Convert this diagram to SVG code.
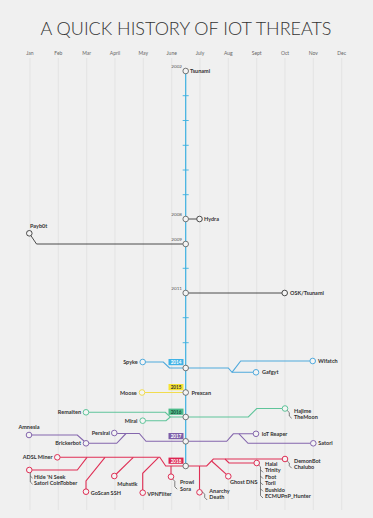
<svg xmlns="http://www.w3.org/2000/svg" width="373" height="518" viewBox="0 0 373 518">
<style>
text{font-family:Lato,"Open Sans","Liberation Sans",sans-serif}
.title{font-size:18.5px;font-weight:300;fill:#333}
.mon{font-size:5px;fill:#666;text-anchor:middle}
.yr{font-size:4.6px;fill:#555;text-anchor:end}
.lb{font-size:5.5px;font-weight:700;fill:#333}
.lr{font-size:5.5px;font-weight:700;fill:#333;text-anchor:end}
.bx{font-size:4.6px;font-weight:700;fill:#fff;text-anchor:middle}
.grid line{stroke:#dedede;stroke-width:0.7}
.t{fill:#f4f4f4;stroke:#555;stroke-width:0.8}
.k{fill:#f4f4f4;stroke:#222;stroke-width:0.8}
.cb{fill:#f4f4f4;stroke:#4fa9dc;stroke-width:1}
.cy{fill:#f4f4f4;stroke:#f1dc4e;stroke-width:1}
.cg{fill:#f4f4f4;stroke:#5fc49a;stroke-width:1}
.cp{fill:#f4f4f4;stroke:#8466ad;stroke-width:1}
.cr{fill:#f4f4f4;stroke:#df2f55;stroke-width:1}
.ck{fill:none;stroke:#222;stroke-width:0.8}
.lk{fill:none;stroke:#222;stroke-width:0.8}
.lbl{fill:none;stroke:#4fa9dc;stroke-width:1.1}
.ly{fill:none;stroke:#f1dc4e;stroke-width:1.1}
.lg{fill:none;stroke:#5fc49a;stroke-width:1.1}
.lp{fill:none;stroke:#8466ad;stroke-width:1.1}
.lr2{fill:none;stroke:#df2f55;stroke-width:1.1}
.tick{stroke:#3bb0e0;stroke-width:0.9}
.br{fill:none;stroke:#333;stroke-width:0.6}
</style>
<rect width="373" height="518" fill="#f0f0f0"/>
<text class="title" x="40.5" y="35" textLength="291" lengthAdjust="spacingAndGlyphs">A QUICK HISTORY OF IOT THREATS</text>
<g class="grid">
<line x1="30" y1="58" x2="30" y2="510"/>
<line x1="58.3" y1="58" x2="58.3" y2="510"/>
<line x1="86.7" y1="58" x2="86.7" y2="510"/>
<line x1="115" y1="58" x2="115" y2="510"/>
<line x1="143.3" y1="58" x2="143.3" y2="510"/>
<line x1="171.7" y1="58" x2="171.7" y2="510"/>
<line x1="200" y1="58" x2="200" y2="510"/>
<line x1="228.3" y1="58" x2="228.3" y2="510"/>
<line x1="256.7" y1="58" x2="256.7" y2="510"/>
<line x1="285" y1="58" x2="285" y2="510"/>
<line x1="313.3" y1="58" x2="313.3" y2="510"/>
<line x1="341.7" y1="58" x2="341.7" y2="510"/>
</g>
<g id="months">
<text class="mon" x="30" y="54.7">Jan</text>
<text class="mon" x="58.3" y="54.7">Feb</text>
<text class="mon" x="86.7" y="54.7">Mar</text>
<text class="mon" x="115" y="54.7">April</text>
<text class="mon" x="143.3" y="54.7">May</text>
<text class="mon" x="171.7" y="54.7">June</text>
<text class="mon" x="200" y="54.7">July</text>
<text class="mon" x="228.3" y="54.7">Aug</text>
<text class="mon" x="256.7" y="54.7">Sept</text>
<text class="mon" x="285" y="54.7">Oct</text>
<text class="mon" x="313.3" y="54.7">Nov</text>
<text class="mon" x="341.7" y="54.7">Dec</text>
</g>
<g id="connectors">
<line x1="185.7" y1="71" x2="185.7" y2="466" stroke="#3bb0e0" stroke-width="1.2"/>
<line class="tick" x1="182.7" y1="95.7" x2="188.7" y2="95.7"/>
<line class="tick" x1="182.7" y1="120.5" x2="188.7" y2="120.5"/>
<line class="tick" x1="182.7" y1="145.3" x2="188.7" y2="145.3"/>
<line class="tick" x1="182.7" y1="170" x2="188.7" y2="170"/>
<line class="tick" x1="182.7" y1="194.7" x2="188.7" y2="194.7"/>
<line class="tick" x1="182.7" y1="268.3" x2="188.7" y2="268.3"/>
<line class="tick" x1="182.7" y1="317.7" x2="188.7" y2="317.7"/>
<line class="tick" x1="182.7" y1="342.7" x2="188.7" y2="342.7"/>
<path class="lk" d="M188.5,219 H196.7"/>
<path class="lk" d="M31,235.8 L36.5,244 H182.9"/>
<path class="lk" d="M188.5,293 H281.9"/>
<path class="lbl" d="M145.5,362 H163.3 L169.5,368 H182.9"/>
<path class="lbl" d="M188.5,368 H228.3 L232,372.3 H253.2"/>
<path class="lbl" d="M232,372.3 L240.7,361 H309.9"/>
<path class="ly" d="M144.8,392.5 H182.9"/>
<path class="lg" d="M88.8,412.3 H165.3 L170.3,417 H182.9"/>
<path class="lg" d="M145.5,420.7 H166 L170.3,417"/>
<path class="lg" d="M188.5,417 H248.3 L256.7,408.5 H282.2"/>
<path class="lp" d="M31.8,435 H77.3 L84,441"/>
<path class="lp" d="M88.8,443.3 H116.7 L126,433.5"/>
<path class="lp" d="M117.1,433.5 H139.3 L146,441.3 H182.9"/>
<path class="lp" d="M188.5,441.3 H226.7 L233.3,433.8 H253.2"/>
<path class="lp" d="M239,433.8 L248,443.3 H310.5"/>
<path class="lr2" d="M60.1,457.3 H159.8 L165.7,466 H182.9"/>
<path class="lr2" d="M32.1,470 H77.3 L87,457.3"/>
<path class="lr2" d="M86,488.9 V481 L105,457.3"/>
<path class="lr2" d="M116.3,474 L133.3,457.3"/>
<path class="lr2" d="M142.7,489.9 V473.3 L158.6,457.3"/>
<path class="lr2" d="M171,473.9 V466"/>
<path class="lr2" d="M188.5,466 H206.7 L213.3,459 H282.2"/>
<path class="lr2" d="M199.5,466 V489.5"/>
<path class="lr2" d="M211.6,461 L226.4,474.3"/>
<path class="lr2" d="M225,459 L229,463 H253.9"/>
</g>
<g id="y2002"><circle class="t" cx="185.7" cy="71" r="2.8"/><text class="yr" x="182" y="67.5">2002</text><text class="lb" x="190" y="73">Tsunami</text></g>
<g id="y2008"><circle class="t" cx="185.7" cy="219" r="2.8"/><text class="yr" x="182" y="215.5">2008</text></g>
<g id="y2009"><circle class="t" cx="185.7" cy="244" r="2.8"/><text class="yr" x="182" y="240.5">2009</text></g>
<g id="y2011"><circle class="t" cx="185.7" cy="293" r="2.8"/><text class="yr" x="182" y="290">2011</text></g>
<g id="y2014"><circle class="t" cx="185.7" cy="368" r="2.8"/><rect x="168.5" y="359" width="15" height="6.2" fill="#3fb2e6"/><text class="bx" x="176" y="363.9">2014</text></g>
<g id="y2015"><circle class="t" cx="185.7" cy="392.5" r="2.8"/><rect x="168.5" y="384" width="15" height="6.2" fill="#f6e332"/><text class="bx" x="176" y="388.9" fill="#333" style="fill:#333">2015</text><text class="lb" x="191.5" y="394.7">Prexcan</text></g>
<g id="y2016"><circle class="t" cx="185.7" cy="417" r="2.8"/><rect x="168.5" y="408.6" width="15" height="6.2" fill="#4cbb8a"/><text class="bx" x="176" y="413.5" style="fill:#1d4d38">2016</text></g>
<g id="y2017"><circle class="t" cx="185.7" cy="441.3" r="2.8"/><rect x="168.5" y="433" width="15" height="6.2" fill="#7d5ea8"/><text class="bx" x="176" y="437.9">2017</text></g>
<g id="y2018"><circle class="t" cx="185.7" cy="466" r="2.8"/><rect x="168.5" y="457.6" width="15" height="6.2" fill="#dc2450"/><text class="bx" x="176" y="462.5">2018</text></g>
<g id="n-hydra"><circle class="k" cx="199.5" cy="219" r="2.8"/><text class="lb" x="204" y="221">Hydra</text></g>
<g id="n-payb0t"><circle class="k" cx="29.3" cy="233.3" r="2.8"/><text class="lb" x="30" y="227.7">Payb0t</text></g>
<g id="n-osk"><circle class="k" cx="284.7" cy="293" r="2.8"/><text class="lb" x="290" y="295">OSK/Tsunami</text></g>
<g id="n-spyke"><circle class="cb" cx="142.7" cy="362" r="2.8"/><text class="lr" x="137.8" y="364">Spyke</text></g>
<g id="n-wifatch"><circle class="cb" cx="312.7" cy="361" r="2.8"/><text class="lb" x="318" y="363">Wifatch</text></g>
<g id="n-gafgyt"><circle class="cb" cx="256" cy="372.3" r="2.8"/><text class="lb" x="262" y="374.3">Gafgyt</text></g>
<g id="n-moose"><circle class="cy" cx="142" cy="392.5" r="2.8"/><text class="lr" x="136.8" y="394.5">Moose</text></g>
<g id="n-remaiten"><circle class="cg" cx="86" cy="412.3" r="2.8"/><text class="lr" x="81" y="414.3">Remaiten</text></g>
<g id="n-mirai"><circle class="cg" cx="142.7" cy="420.7" r="2.8"/><text class="lr" x="137.5" y="422.7">Mirai</text></g>
<g id="n-hajime"><circle class="cg" cx="285" cy="408.5" r="2.8"/><path class="br" d="M287.2,410.5 L289.3,412.6 V416 L291.7,418.3"/><text class="lb" x="294" y="412.6">Hajime</text><text class="lb" x="294" y="419">TheMoon</text></g>
<g id="n-amnesia"><circle class="cp" cx="29" cy="435" r="2.8"/><text class="lb" x="29" y="429.3" text-anchor="middle">Amnesia</text></g>
<g id="n-brickerbot"><circle class="cp" cx="86" cy="443.3" r="2.8"/><text class="lr" x="81" y="445.3">Brickerbot</text></g>
<g id="n-persirai"><circle class="cp" cx="114.3" cy="433" r="2.8"/><text class="lr" x="110" y="434.5">Persirai</text></g>
<g id="n-iotreaper"><circle class="cp" cx="256" cy="433.8" r="2.8"/><text class="lb" x="261.7" y="435.5">IoT Reaper</text></g>
<g id="n-satori"><circle class="cp" cx="313.3" cy="443.3" r="2.8"/><text class="lb" x="318.3" y="445.3">Satori</text></g>
<g id="n-adsl"><circle class="cr" cx="57.3" cy="457.3" r="2.8"/><text class="lr" x="52.5" y="458.8">ADSL Miner</text></g>
<g id="n-hide"><circle class="cr" cx="29.3" cy="470" r="2.8"/><path class="br" d="M30.3,472.6 V476 L32.6,478.2 M30.3,476 V482 L32.6,484.2"/><text class="lb" x="34" y="478.7">Hide 'N Seek</text><text class="lb" x="34" y="484.7">Satori CoinTobber</text></g>
<g id="n-goscan"><circle class="cr" cx="86" cy="491.7" r="2.8"/><text class="lb" x="90.7" y="495.3">GoScan SSH</text></g>
<g id="n-muhstik"><circle class="cr" cx="114.3" cy="476" r="2.8"/><text class="lb" x="117.3" y="486">Muhstik</text></g>
<g id="n-vpnfilter"><circle class="cr" cx="142.7" cy="492.7" r="2.8"/><text class="lb" x="147.3" y="496.3">VPNFilter</text></g>
<g id="n-prowl"><circle class="cr" cx="171" cy="476.7" r="2.8"/><path class="br" d="M172.6,479 L174.8,481.3 V486.8 L177.2,489.2"/><text class="lb" x="180" y="484.3">Prowl</text><text class="lb" x="180" y="491">Sora</text></g>
<g id="n-anarchy"><circle class="cr" cx="199.5" cy="492.3" r="2.8"/><path class="br" d="M202.1,491.6 L204.7,494.2 V497.5 L207.2,500"/><text class="lb" x="209.3" y="493.3">Anarchy</text><text class="lb" x="209.3" y="499.3">Death</text></g>
<g id="n-ghostdns"><circle class="cr" cx="228.3" cy="476.3" r="2.8"/><text class="lb" x="230" y="484.2">Ghost DNS</text></g>
<g id="n-halai"><circle class="cr" cx="256.7" cy="463" r="2.8"/><path class="br" d="M258.6,465 L260.5,466.8 V495.6 L263,498 M260.5,469.8 L263,472.3 M260.5,476.1 L263,478.6 M260.5,482.4 L263,484.9 M260.5,488.8 L263,491.3"/><text class="lb" x="265" y="466">Halai</text><text class="lb" x="265" y="472.3">Trinity</text><text class="lb" x="265" y="478.7">Fbot</text><text class="lb" x="265" y="485">Torii</text><text class="lb" x="265" y="491.5">Bushido</text><text class="lb" x="265" y="497.8">ECMUPnP_Hunter</text></g>
<g id="n-demonbot"><circle class="cr" cx="285" cy="459" r="2.8"/><path class="br" d="M287.2,461 L289.3,463 V465.8 L291.7,468.2"/><text class="lb" x="294" y="463">DemonBot</text><text class="lb" x="294" y="468.7">Chalubo</text></g>
</svg>
